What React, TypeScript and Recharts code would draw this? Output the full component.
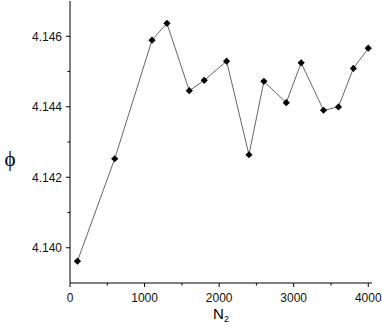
import React from 'react';
import { LineChart, Line, XAxis, YAxis, Customized } from 'recharts';

const nValues = [100, 600, 1100, 1300, 1600, 1800, 2100, 2400, 2600, 2900, 3100, 3400, 3600, 3800, 4000];
const phiValues = [4.13962, 4.142525, 4.14589, 4.146367, 4.144455, 4.144749, 4.145294, 4.142638, 4.14472, 4.144116, 4.145246, 4.143901, 4.143994, 4.145087, 4.145661];
const xTicks = [0, 500, 1000, 1500, 2000, 2500, 3000, 3500, 4000];
const yTicks = [4.14, 4.141, 4.142, 4.143, 4.144, 4.145, 4.146];
const xLabel = 'N';
const xLabelSub = '2';
const yLabel = 'ϕ';

const data = nValues.map((n, i) => ({ n, phi: phiValues[i] }));

const FONT = '"Liberation Sans", Arial, sans-serif';

const isMajorX = (v: number) => Math.round(v) % 1000 === 0;
const isMajorY = (v: number) => Math.round(v * 1000) % 2 === 0;

const BottomTick = (props: any) => {
  const { x, y, payload } = props;
  const v = payload.value;
  const major = isMajorX(v);
  return (
    <g>
      <line x1={x} x2={x} y1={y} y2={y + (major ? 4 : 2.5)} stroke="#000" strokeWidth={1} />
      {major && (
        <text x={x} y={y + 18.5} textAnchor="middle" fontSize={12} fontFamily={FONT} style={{ fill: '#111' }}>
          {v}
        </text>
      )}
    </g>
  );
};

const TopTick = (props: any) => {
  const { x, y, payload } = props;
  const major = isMajorX(payload.value);
  return <line x1={x} x2={x} y1={y} y2={y + (major ? 4 : 2.5)} stroke="#000" strokeWidth={1} />;
};

const LeftTick = (props: any) => {
  const { x, y, payload } = props;
  const v = payload.value;
  const major = isMajorY(v);
  return (
    <g>
      <line x1={x} x2={x - (major ? 4 : 2.5)} y1={y} y2={y} stroke="#000" strokeWidth={1} />
      {major && (
        <text x={x - 8} y={y + 4.3} textAnchor="end" fontSize={12} fontFamily={FONT} style={{ fill: '#111' }}>
          {v.toFixed(3)}
        </text>
      )}
    </g>
  );
};

const RightTick = (props: any) => {
  const { x, y, payload } = props;
  const major = isMajorY(payload.value);
  return <line x1={x} x2={x - (major ? 4 : 2.5)} y1={y} y2={y} stroke="#000" strokeWidth={1} />;
};

const Diamond = (props: any) => {
  const { cx, cy } = props;
  if (cx == null || cy == null) return null;
  const r = 3.6;
  return <path d={`M${cx},${cy - r}L${cx + r},${cy}L${cx},${cy + r}L${cx - r},${cy}Z`} fill="#000" />;
};

const Labels = () => (
  <g>
    <text x={10} y={166} textAnchor="middle" fontSize={21} fontFamily='"Liberation Serif", "DejaVu Serif", serif' style={{ fill: '#000' }}>
      {yLabel}
    </text>
    <text x={221} y={319} textAnchor="middle" fontSize={15} fontFamily={FONT} style={{ fill: '#000' }}>
      {xLabel}
      <tspan fontSize={9} dy={3}>{xLabelSub}</tspan>
    </text>
  </g>
);

export default function App() {
  return (
    <div style={{ position: 'absolute', left: 0, top: 0, width: 382, height: 333, background: '#fff' }}>
      <LineChart width={382} height={333} data={data} margin={{ top: 1, right: 10, bottom: 0, left: 0 }}>
        <XAxis
          xAxisId="b"
          dataKey="n"
          type="number"
          domain={[0, 4050]}
          ticks={xTicks}
          height={50}
          tickSize={0}
          tickMargin={0}
          tickLine={false}
          axisLine={{ stroke: '#000', strokeWidth: 1 }}
          tick={<BottomTick />}
          interval={0}
        />
        <XAxis
          xAxisId="t"
          orientation="top"
          dataKey="n"
          type="number"
          domain={[0, 4050]}
          ticks={xTicks}
          height={0}
          tickSize={0}
          tickMargin={0}
          tickLine={false}
          axisLine={{ stroke: '#000', strokeWidth: 1 }}
          tick={<TopTick />}
          interval={0}
        />
        <YAxis
          yAxisId="l"
          type="number"
          domain={[4.139, 4.147]}
          ticks={yTicks}
          width={70}
          tickSize={0}
          tickMargin={0}
          tickLine={false}
          axisLine={{ stroke: '#000', strokeWidth: 1 }}
          tick={<LeftTick />}
          interval={0}
          allowDataOverflow
        />
        <YAxis
          yAxisId="r"
          orientation="right"
          type="number"
          domain={[4.139, 4.147]}
          ticks={yTicks}
          width={0}
          tickSize={0}
          tickMargin={0}
          tickLine={false}
          axisLine={{ stroke: '#000', strokeWidth: 1 }}
          tick={<RightTick />}
          interval={0}
          allowDataOverflow
        />
        <Line
          xAxisId="b"
          yAxisId="l"
          dataKey="phi"
          type="linear"
          stroke="#666"
          strokeWidth={1}
          dot={<Diamond />}
          activeDot={false}
          isAnimationActive={false}
        />
        <Customized component={Labels} />
      </LineChart>
    </div>
  );
}
